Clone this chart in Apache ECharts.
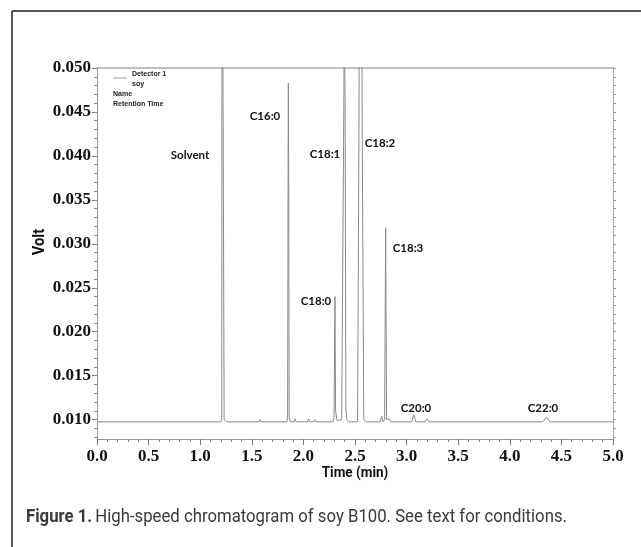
<!DOCTYPE html>
<html>
<head>
<meta charset="utf-8">
<script src="https://cdn.jsdelivr.net/npm/echarts@6/dist/echarts.min.js"></script>
<style>html,body{margin:0;padding:0;background:#fff}#c{width:641px;height:547px}</style>
</head>
<body>
<div id="c"></div>
<script>
// Retention time (min) and detector signal (Volt)
const times = [0.00, 1.200, 1.209, 1.212, 1.228, 1.232, 1.238, 1.255,
  1.570, 1.580, 1.590,
  1.840, 1.847, 1.852, 1.854, 1.857, 1.862, 1.875,
  1.910, 1.920, 1.930, 2.040, 2.050, 2.060, 2.100, 2.110, 2.120,
  2.285, 2.297, 2.306, 2.312, 2.325, 2.335,
  2.371, 2.392, 2.397, 2.404, 2.412, 2.422, 2.440,
  2.525, 2.539, 2.543, 2.565, 2.569, 2.585, 2.610,
  2.745, 2.759, 2.772, 2.787, 2.797, 2.806, 2.818, 2.830, 2.845,
  3.050, 3.070, 3.090, 3.180, 3.200, 3.220,
  4.320, 4.357, 4.390, 5.00];
const volts = [0.00975, 0.00975, 0.0100, 0.0800, 0.0800, 0.0100, 0.0101, 0.00975,
  0.00975, 0.0100, 0.00975,
  0.00975, 0.0105, 0.0400, 0.0483, 0.0400, 0.0102, 0.00975,
  0.00975, 0.0101, 0.00975, 0.00975, 0.0101, 0.00975, 0.00975, 0.0100, 0.00975,
  0.00975, 0.0102, 0.0240, 0.0110, 0.0099, 0.00985,
  0.0100, 0.0460, 0.0600, 0.0460, 0.0110, 0.0100, 0.00975,
  0.00975, 0.0450, 0.0700, 0.0700, 0.0450, 0.0100, 0.00975,
  0.00975, 0.0104, 0.00975, 0.0100, 0.0318, 0.0100, 0.0099, 0.0101, 0.00975,
  0.00975, 0.01056, 0.00975, 0.00975, 0.0101, 0.00975,
  0.00975, 0.0103, 0.00975, 0.00975];
const yTicks = [0.010, 0.015, 0.020, 0.025, 0.030, 0.035, 0.040, 0.045, 0.050];
const xTicks = [0.0, 0.5, 1.0, 1.5, 2.0, 2.5, 3.0, 3.5, 4.0, 4.5, 5.0];
const peakNames = ['Solvent', 'C16:0', 'C18:1', 'C18:2', 'C18:0', 'C18:3', 'C20:0', 'C22:0'];
const legendLines = ['Detector 1', 'soy', 'Name', 'Retention Time'];
const captionBold = 'Figure 1.';
const captionText = 'High-speed chromatogram of soy B100. See text for conditions.';

const Y_MIN = 0.0078, Y_MAX = 0.050;
const minorY = [];
for (let k = 8; k <= 50; k++) minorY.push(k / 1000);

const data = times.map((t, i) => [t, volts[i]]);
const serif = '"Liberation Serif", "DejaVu Serif", serif';
const narrow = 'Roboto, "Liberation Sans", sans-serif';

const chart = echarts.init(document.getElementById('c'), null, {renderer: 'canvas'});

const peakPos = [[190, 155], [265, 116], [325, 154], [380, 143], [316, 301], [408, 248], [416, 408], [543, 408]];
const legFont = 'bold 7px "Liberation Sans", Arial';

const graphics = [
  {type: 'line', shape: {x1: 12, y1: 11, x2: 641, y2: 11}, style: {stroke: '#555', lineWidth: 2}},
  {type: 'line', shape: {x1: 12, y1: 11, x2: 12, y2: 547}, style: {stroke: '#222', lineWidth: 1.5}},
  {type: 'line', shape: {x1: 113, y1: 78, x2: 127, y2: 78}, style: {stroke: '#999', lineWidth: 1}},
  {type: 'text', x: 132, y: 74.5, style: {text: legendLines[0], font: legFont, fill: '#222', textVerticalAlign: 'middle', verticalAlign: 'middle'}},
  {type: 'text', x: 132, y: 84.5, style: {text: legendLines[1], font: legFont, fill: '#222', textVerticalAlign: 'middle', verticalAlign: 'middle'}},
  {type: 'text', x: 113, y: 94, style: {text: legendLines[2], font: legFont, fill: '#222', textVerticalAlign: 'middle', verticalAlign: 'middle'}},
  {type: 'text', x: 113, y: 104.5, style: {text: legendLines[3], font: legFont, fill: '#222', textVerticalAlign: 'middle', verticalAlign: 'middle'}},
  {type: 'text', x: 40, y: 242, rotation: Math.PI / 2, scaleX: 0.92, style: {text: 'Volt', font: 'bold 16px ' + narrow, fill: '#111', textAlign: 'center', align: 'center', textVerticalAlign: 'middle', verticalAlign: 'middle'}},
  {type: 'text', x: 355, y: 473, scaleX: 0.9, style: {text: 'Time (min)', font: 'bold 15px ' + narrow, fill: '#111', textAlign: 'center', align: 'center', textVerticalAlign: 'middle', verticalAlign: 'middle'}},
  {type: 'text', x: 26, y: 517, scaleX: 0.93, style: {
    text: '{b|' + captionBold + '} {n|' + captionText + '}',
    textVerticalAlign: 'middle', verticalAlign: 'middle',
    rich: {
      b: {font: 'bold 18px ' + narrow, fill: '#3a3a3a'},
      n: {font: '18px ' + narrow, fill: '#3a3a3a'}
    }
  }}
];
peakNames.forEach((n, i) => {
  graphics.push({type: 'text', x: peakPos[i][0], y: peakPos[i][1], style: {text: n, font: 'bold 11.5px Lato, "Noto Sans", sans-serif', fill: '#111', textAlign: 'center', align: 'center', textVerticalAlign: 'middle', verticalAlign: 'middle'}});
});

chart.setOption({
  animation: false,
  backgroundColor: '#fff',
  grid: {left: 97, right: 28, top: 68, bottom: 108, containLabel: false, outerBoundsMode: 'none'},
  xAxis: [{
    type: 'value', min: 0, max: 5, interval: 0.5,
    axisLine: {show: true, onZero: false, lineStyle: {color: '#999', width: 1}},
    axisTick: {show: true, length: 6, inside: false, lineStyle: {color: '#777'}},
    minorTick: {show: true, splitNumber: 5, length: 3, lineStyle: {color: '#888'}},
    splitLine: {show: false},
    axisLabel: {margin: 9, fontFamily: serif, fontWeight: 'bold', fontSize: 17, color: '#111',
      formatter: v => xTicks.find(t => Math.abs(t - v) < 1e-6).toFixed(1)}
  }, {
    type: 'value', min: 0, max: 5, position: 'top',
    axisLine: {show: true, onZero: false, lineStyle: {color: '#aaa', width: 1.5}},
    axisTick: {show: false}, axisLabel: {show: false}, splitLine: {show: false}
  }],
  yAxis: [{
    type: 'value', min: Y_MIN, max: Y_MAX, position: 'left',
    axisLine: {show: true, onZero: false, lineStyle: {color: '#999', width: 1}},
    axisTick: {show: true, length: 5, customValues: yTicks, lineStyle: {color: '#777'}},
    splitLine: {show: false},
    axisLabel: {customValues: yTicks, margin: 6, fontFamily: serif, fontWeight: 'bold', fontSize: 17, color: '#111',
      formatter: v => v.toFixed(3)}
  }, {
    type: 'value', min: Y_MIN, max: Y_MAX, position: 'left',
    axisLine: {show: false},
    axisTick: {show: true, length: 3, customValues: minorY, lineStyle: {color: '#888'}},
    axisLabel: {show: false}, splitLine: {show: false}
  }, {
    type: 'value', min: Y_MIN, max: Y_MAX, position: 'right',
    axisLine: {show: true, onZero: false, lineStyle: {color: '#aaa', width: 1}},
    axisTick: {show: true, length: 3, customValues: minorY, lineStyle: {color: '#999'}},
    axisLabel: {show: false}, splitLine: {show: false}
  }],
  series: [{
    type: 'line', xAxisIndex: 0, yAxisIndex: 0, data: data,
    showSymbol: false, symbol: 'none', clip: true,
    lineStyle: {color: '#8a8a8a', width: 1}
  }],
  graphic: graphics
});
</script>
</body>
</html>
